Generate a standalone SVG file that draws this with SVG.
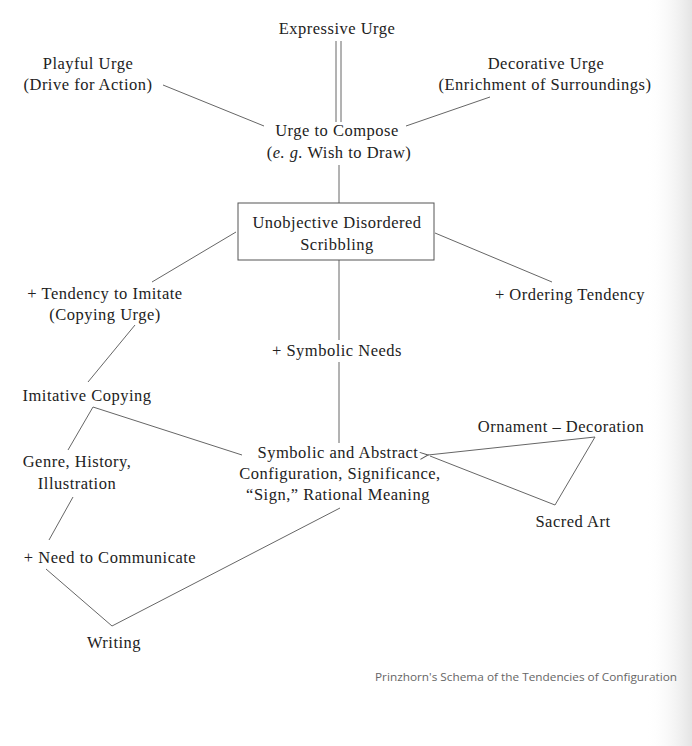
<svg xmlns="http://www.w3.org/2000/svg" width="692" height="746" viewBox="0 0 692 746">
  <defs>
    <linearGradient id="edge" x1="0" y1="0" x2="1" y2="0">
      <stop offset="0" stop-color="#ffffff" stop-opacity="0"/>
      <stop offset="1" stop-color="#e4e4e4"/>
    </linearGradient>
    <marker id="arr" markerWidth="10" markerHeight="10" refX="1" refY="5" orient="auto" markerUnits="userSpaceOnUse">
      <path d="M9,1.5 L1,5 L9,8.5" fill="none" stroke="#555" stroke-width="1"/>
    </marker>
    <style>
      .t { font-family: "Liberation Serif", "Times New Roman", serif; font-size: 16.5px; fill: #222222; text-anchor: middle; letter-spacing: 0.5px; }
      .c { stroke: #666666; stroke-width: 1; fill: none; }
      .box { fill: #ffffff; stroke: #555; stroke-width: 1; }
      .cap { font-family: "Open Sans", "Liberation Sans", sans-serif; font-size: 10.5px; fill: #666; }
    </style>
  </defs>
  <rect width="692" height="746" fill="#ffffff"/>
  <rect x="645" y="0" width="47" height="746" fill="url(#edge)"/>

  <g id="connectors">
    <line class="c" x1="336" y1="41" x2="336" y2="122"/>
    <line class="c" x1="341" y1="41" x2="341" y2="122"/>
    <line class="c" x1="163" y1="85" x2="264" y2="126"/>
    <line class="c" x1="490" y1="97" x2="406" y2="126"/>
    <line class="c" x1="339" y1="165" x2="339" y2="203"/>
    <line class="c" x1="236" y1="232" x2="152" y2="282"/>
    <line class="c" x1="435" y1="233" x2="552" y2="282"/>
    <line class="c" x1="135" y1="325" x2="88" y2="382"/>
    <line class="c" x1="339" y1="260" x2="339" y2="340"/>
    <line class="c" x1="339" y1="362" x2="339" y2="443"/>
    <line class="c" x1="93" y1="407" x2="242" y2="455"/>
    <line class="c" x1="93" y1="407" x2="68" y2="450"/>
    <line class="c" x1="73" y1="497" x2="49" y2="540"/>
    <polyline class="c" points="46,569 112,626 340,508"/>
    <line class="c" x1="595" y1="437" x2="428" y2="455" marker-end="url(#arr)"/>
    <line class="c" x1="430" y1="456" x2="555" y2="505"/>
    <line class="c" x1="555" y1="505" x2="595" y2="437"/>
  </g>

  <g id="expressive-urge"><text class="t" x="337" y="34">Expressive Urge</text></g>
  <g id="playful-urge">
    <text class="t" x="88" y="69">Playful Urge</text>
    <text class="t" x="88" y="90">(Drive for Action)</text>
  </g>
  <g id="decorative-urge">
    <text class="t" x="546" y="69">Decorative Urge</text>
    <text class="t" x="545" y="90">(Enrichment of Surroundings)</text>
  </g>
  <g id="urge-to-compose">
    <text class="t" x="337" y="136">Urge to Compose</text>
    <text class="t" x="339" y="158">(<tspan font-style="italic">e. g.</tspan> Wish to Draw)</text>
  </g>
  <g id="scribbling">
    <rect class="box" x="238" y="203" width="196" height="57"/>
    <text class="t" x="337" y="228">Unobjective Disordered</text>
    <text class="t" x="337" y="250">Scribbling</text>
  </g>
  <g id="tendency-to-imitate">
    <text class="t" x="105" y="299">+ Tendency to Imitate</text>
    <text class="t" x="105" y="320">(Copying Urge)</text>
  </g>
  <g id="ordering-tendency"><text class="t" x="570" y="300">+ Ordering Tendency</text></g>
  <g id="symbolic-needs"><text class="t" x="337" y="356">+ Symbolic Needs</text></g>
  <g id="imitative-copying"><text class="t" x="87" y="401">Imitative Copying</text></g>
  <g id="genre">
    <text class="t" x="77" y="467">Genre, History,</text>
    <text class="t" x="77" y="489">Illustration</text>
  </g>
  <g id="symbolic-abstract">
    <text class="t" x="338" y="458">Symbolic and Abstract</text>
    <text class="t" x="340" y="479">Configuration, Significance,</text>
    <text class="t" x="338" y="500">“Sign,” Rational Meaning</text>
  </g>
  <g id="ornament"><text class="t" x="561" y="432">Ornament – Decoration</text></g>
  <g id="sacred-art"><text class="t" x="573" y="527">Sacred Art</text></g>
  <g id="need-to-communicate"><text class="t" x="110" y="563">+ Need to Communicate</text></g>
  <g id="writing"><text class="t" x="114" y="648">Writing</text></g>
  <g id="caption"><text class="cap" x="375" y="681" textLength="302" lengthAdjust="spacingAndGlyphs">Prinzhorn's Schema of the Tendencies of Configuration</text></g>
</svg>
